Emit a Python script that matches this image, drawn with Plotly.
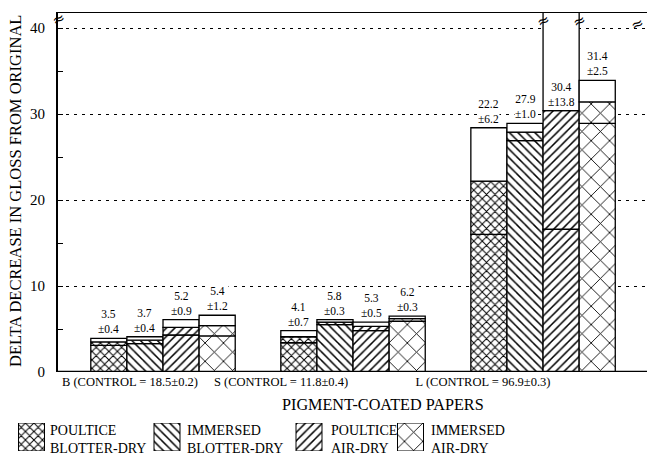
import plotly.graph_objects as go

# ---------------- data ----------------
groups = ["B (CONTROL = 18.5±0.2)", "S (CONTROL = 11.8±0.4)", "L (CONTROL = 96.9±0.3)"]
series = ["POULTICE<br>BLOTTER-DRY", "IMMERSED<br>BLOTTER-DRY", "POULTICE<br>AIR-DRY", "IMMERSED<br>AIR-DRY"]
mean_pbd = [3.5, 4.1, 22.2]
mean_ibd = [3.7, 5.8, 27.9]
mean_pad = [5.2, 5.3, 30.4]
mean_iad = [5.4, 6.2, 31.4]
sd_pbd = [0.4, 0.7, 6.2]
sd_ibd = [0.4, 0.3, 1.0]
sd_pad = [0.9, 0.5, 13.8]
sd_iad = [1.2, 0.3, 2.5]
y_ticks = [0, 10, 20, 30, 40]

means = [mean_pbd, mean_ibd, mean_pad, mean_iad]
sds = [sd_pbd, sd_ibd, sd_pad, sd_iad]

# ---------------- layout helpers ----------------
W, H = 647, 461
SERIF = "Liberation Serif"
group_pos = [0, 1, 2]
bar_w = 0.19
label_pos = [-0.174, 0.621, 1.684]
YMAX = 41.86
XMIN, XMAX = -0.5526, 2.547

def pat(shape, size, solidity):
    return dict(shape=shape, size=size, solidity=solidity, fgcolor="#000000",
                bgcolor="#ffffff", fgopacity=1, fillmode="replace")

patterns = [
    pat("x", 6, 0.3),
    pat("\\", 6, 0.25),
    pat("/", 6, 0.25),
    pat("x", 13, 0.13),
]

fig = go.Figure()
annotations = []
for i in range(4):
    xs = [g + (i - 1.5) * bar_w for g in group_pos]
    m = means[i]
    s = sds[i]
    lower = [mm - ss for mm, ss in zip(m, s)]
    common = dict(x=xs, width=bar_w, showlegend=False, hoverinfo="skip",
                  xaxis="x", yaxis="y")
    fig.add_trace(go.Bar(y=lower, base=[0] * 3,
                         marker=dict(color="white", pattern=patterns[i],
                                     line=dict(color="black", width=1.3)), **common))
    fig.add_trace(go.Bar(y=s, base=lower,
                         marker=dict(color="white", pattern=patterns[i],
                                     line=dict(color="black", width=1.3)), **common))
    fig.add_trace(go.Bar(y=s, base=m,
                         marker=dict(color="white",
                                     line=dict(color="black", width=1.3)), **common))
    for j in range(3):
        top = m[j] + s[j]
        ya = top if top < YMAX else m[j]
        annotations.append(dict(x=xs[j], y=ya, xref="x", yref="y",
                                text=f"{m[j]}<br>±{s[j]}", bgcolor="white", borderpad=0,
                                showarrow=False, yanchor="bottom", yshift=2,
                                font=dict(family=SERIF, size=11.5, color="black")))

# legend swatches drawn as bars on an auxiliary axis
leg_x = [31.5, 167, 309, 410.5]
leg_text_x = [48, 185, 329, 429]
for i in range(4):
    fig.add_trace(go.Bar(x=[leg_x[i]], y=[1], base=[0], width=26,
                         marker=dict(color="white", pattern=patterns[i],
                                     line=dict(color="black", width=1)),
                         xaxis="x2", yaxis="y2", showlegend=False, hoverinfo="skip"))
    annotations.append(dict(x=leg_text_x[i] / W, y=1 - 439 / H, xref="paper", yref="paper",
                            text=series[i], showarrow=False, xanchor="left", yanchor="middle",
                            align="left", font=dict(family=SERIF, size=14, color="black")))

# axis titles
annotations.append(dict(x=16 / W, y=1 - 191 / H, xref="paper", yref="paper",
                        text="DELTA DECREASE IN GLOSS FROM ORIGINAL", textangle=-90,
                        showarrow=False, xanchor="center", yanchor="middle",
                        font=dict(family=SERIF, size=16.5, color="black")))
annotations.append(dict(x=383 / W, y=1 - 405 / H, xref="paper", yref="paper",
                        text="PIGMENT-COATED PAPERS", showarrow=False,
                        xanchor="center", yanchor="middle",
                        font=dict(family=SERIF, size=16.2, color="black")))

# axis-break marks
break_pts = [(XMIN + 0.004, 41.1), (2.0, 40.8), (2.0 + bar_w, 40.8), (XMAX - 0.05, 40.5)]
for bx, by in break_pts:
    annotations.append(dict(x=bx, y=by, xref="x", yref="y", text="≈", textangle=-25,
                            showarrow=False, xanchor="center", yanchor="middle",
                            font=dict(family="DejaVu Sans", size=15, color="black")))

fig.update_layout(
    width=W, height=H,
    margin=dict(l=0, r=0, t=0, b=0),
    paper_bgcolor="white", plot_bgcolor="white",
    barmode="overlay",
    showlegend=False,
    annotations=annotations,
    xaxis=dict(domain=[58 / W, 1], range=[XMIN, XMAX], tickvals=label_pos, ticktext=groups,
               ticks="", showgrid=False, zeroline=False, showline=False,
               tickfont=dict(family=SERIF, size=12.5, color="black"), automargin=False,
               anchor="y"),
    yaxis=dict(domain=[1 - 372 / H, 1 - 12 / H], range=[0, YMAX], tickvals=y_ticks,
               ticks="inside", ticklen=5, tickcolor="black", showline=True, linecolor="black",
               linewidth=2, showgrid=True, gridcolor="black", gridwidth=1,
               griddash="3px,5px", zeroline=False, automargin=False,
               tickfont=dict(family=SERIF, size=15, color="black"), ticklabelstandoff=8,
               minor=dict(tickvals=[5, 15, 25, 35], ticks="inside", ticklen=5,
                          tickcolor="black", showgrid=False),
               anchor="x"),
    xaxis2=dict(domain=[0, 1], range=[0, W], visible=False, anchor="y2"),
    yaxis2=dict(domain=[1 - 451 / H, 1 - 423 / H], range=[0, 1], visible=False, anchor="x2"),
    shapes=[
        dict(type="line", xref="paper", yref="y", x0=58 / W, x1=1, y0=0, y1=0,
             line=dict(color="black", width=2.5)),
        dict(type="line", xref="paper", yref="y", x0=58 / W, x1=1, y0=YMAX, y1=YMAX,
             line=dict(color="black", width=2)),
    ],
)

fig.write_html("out.html", config={"displayModeBar": False},
               post_script="document.body.style.margin='0px';")
